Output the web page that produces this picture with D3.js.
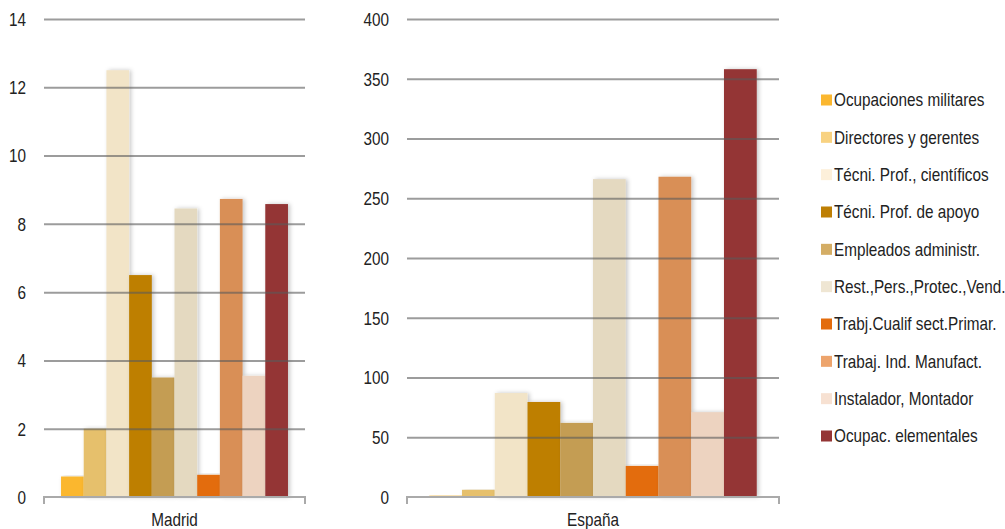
<!DOCTYPE html>
<html>
<head>
<meta charset="utf-8">
<script src="https://cdn.jsdelivr.net/npm/d3@7"></script>
<style>
  html, body { margin: 0; padding: 0; background: #fff; }
  svg text { font-family: "Liberation Sans Narrow", "Arial Narrow", "Liberation Sans", sans-serif; fill: #222; }
</style>
</head>
<body>
<svg id="chart" width="1005" height="529"></svg>
<script>
const categories = ["Ocupaciones militares", "Directores y gerentes", "Técni. Prof., científicos",
  "Técni. Prof. de apoyo", "Empleados administr.", "Rest.,Pers.,Protec.,Vend.",
  "Trabj.Cualif sect.Primar.", "Trabaj. Ind. Manufact.", "Instalador, Montador", "Ocupac. elementales"];
const colors = ["#FBB72F", "#E6C06C", "#F2E4C7", "#BE7F04", "#C49D52", "#E4D9C0",
  "#E36C0C", "#D98F57", "#EDD3C0", "#943535"];
const legendColors = ["#FBB72F", "#F8D281", "#FDF0DA", "#BE7F04", "#D4AD65", "#EFE6D3",
  "#E36C0C", "#EDA46C", "#F7E1D2", "#943535"];
const madridValues = [0.6, 2.0, 12.5, 6.5, 3.5, 8.45, 0.65, 8.73, 3.55, 8.58];
const espanaValues = [1.1, 6, 87, 79.5, 62, 266, 26, 268, 71, 358];
const madridTicks = [0, 2, 4, 6, 8, 10, 12, 14];
const espanaTicks = [0, 50, 100, 150, 200, 250, 300, 350, 400];

const FS = 18, SX = 0.85;
const svg = d3.select("#chart");
const defs = svg.append("defs");
const f = defs.append("filter").attr("id", "shadow").attr("x", "-20%").attr("y", "-5%").attr("width", "160%").attr("height", "110%");
f.append("feDropShadow").attr("dx", 2).attr("dy", 0).attr("stdDeviation", 2).attr("flood-color", "#000").attr("flood-opacity", 0.22);

// narrow text helper: position (x,y) with horizontal compression
function narrow(sel, x, y) {
  sel.attr("x", 0).attr("y", 0)
    .attr("transform", `translate(${x},${y}) scale(${SX},1)`)
    .attr("font-size", FS).style("fill", "#222");
}

function panel(opts) {
  const { x0, x1, yTop, yBot, max, ticks, values, label, padOuter } = opts;
  const g = svg.append("g");
  const y = d3.scaleLinear().domain([0, max]).range([yBot, yTop]);
  const group = d3.scaleBand().domain([label]).range([x0, x1]).paddingOuter(padOuter).paddingInner(0);
  const xb = d3.scaleBand().domain(categories).range([group(label), group(label) + group.bandwidth()]);

  g.selectAll("rect.bar").data(values).join("rect")
    .attr("class", "bar")
    .attr("x", (d, i) => xb(categories[i]))
    .attr("width", xb.bandwidth())
    .attr("y", d => y(d))
    .attr("height", d => yBot - y(d))
    .attr("fill", (d, i) => colors[i])
    .attr("filter", "url(#shadow)");

  const ax = d3.axisLeft(y).tickValues(ticks).tickSize(-(x1 - x0)).tickPadding(18).tickFormat(d3.format("d"));
  const ga = g.append("g").attr("transform", `translate(${x0},0)`).call(ax);
  ga.select(".domain").remove();
  ga.selectAll(".tick line").attr("stroke", "rgba(90,90,90,0.6)").attr("stroke-width", 2)
    .filter(d => d === 0).remove();
  ga.selectAll(".tick text").each(function () {
    d3.select(this).attr("dy", "0.35em").call(narrow, -18, 0)
      .attr("font-family", "'Liberation Sans', sans-serif");
  });

  const bx = d3.axisBottom(group).tickSize(0).tickPadding(0);
  const gb = g.append("g").attr("transform", `translate(0,${yBot})`).call(bx);
  gb.select(".domain").remove();
  gb.selectAll(".tick text").attr("dy", 0).call(narrow, 0, 29)
    .attr("font-family", "'Liberation Sans', sans-serif");
  g.append("path")
    .attr("d", `M${x0},${yBot + 7}V${yBot}H${x1}V${yBot + 7}`)
    .attr("fill", "none").attr("stroke", "#aaa").attr("stroke-width", 2);
}

panel({ x0: 44, x1: 305, yTop: 19, yBot: 497, max: 14, ticks: madridTicks, values: madridValues, label: "Madrid", padOuter: 0.075 });
panel({ x0: 407, x1: 779, yTop: 19, yBot: 497, max: 400, ticks: espanaTicks, values: espanaValues, label: "España", padOuter: 0.068 });

const legY = d3.scalePoint().domain(categories).range([100, 436]);
const lg = svg.append("g");
const items = lg.selectAll("g").data(categories).join("g")
  .attr("transform", d => `translate(821,${legY(d)})`);
items.append("rect").attr("x", 0).attr("y", -5.5).attr("width", 11).attr("height", 11)
  .attr("fill", (d, i) => legendColors[i]);
items.append("text").attr("dy", "0.35em").text(d => d).call(narrow, 13, 0)
  .attr("font-family", "'Liberation Sans', sans-serif");
</script>
</body>
</html>
